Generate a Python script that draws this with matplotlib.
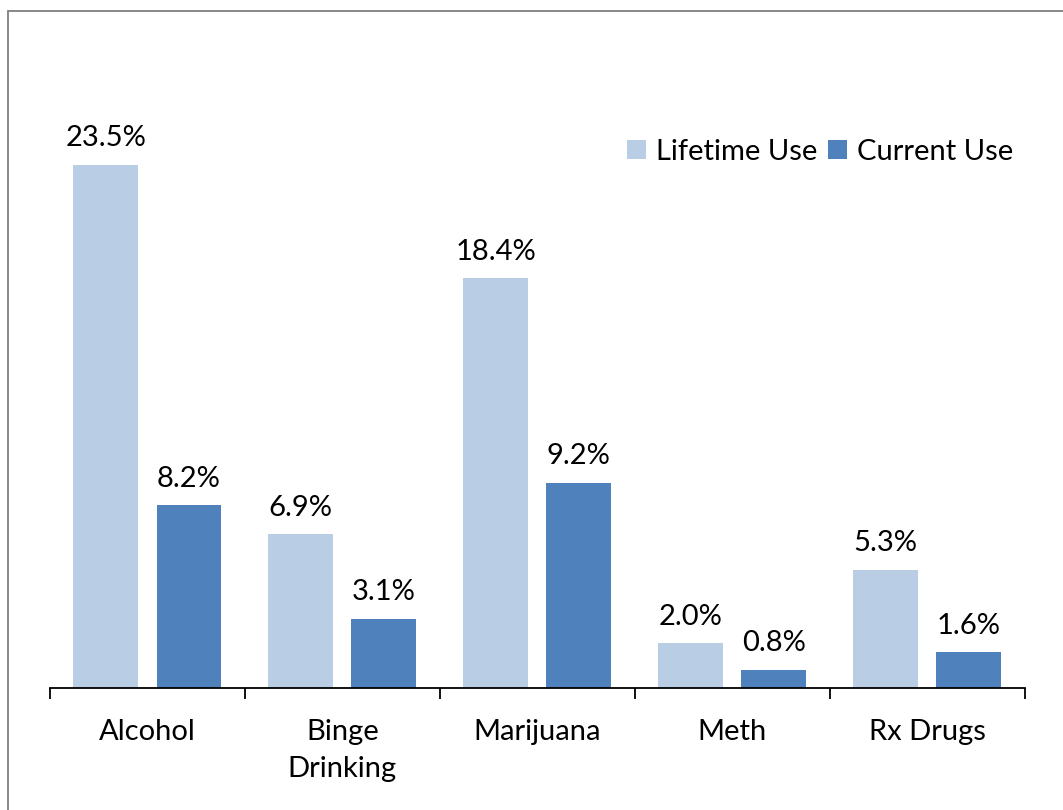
import matplotlib.pyplot as plt
import numpy as np
from matplotlib.patches import Rectangle

categories = ["Alcohol", "Binge\nDrinking", "Marijuana", "Meth", "Rx Drugs"]
lifetime = [23.5, 6.9, 18.4, 2.0, 5.3]
current = [8.2, 3.1, 9.2, 0.8, 1.6]

light = "#B9CDE5"
dark = "#4F81BD"

plt.rcParams['font.family'] = ['Lato', 'DejaVu Sans']

fig = plt.figure(figsize=(10.63, 8.1), dpi=100)
ax = fig.add_axes([0.047, 0.1506, 0.917, 0.687])

x = np.arange(len(categories))
w = 0.333
b1 = ax.bar(x - 0.213, lifetime, w, color=light, label="Lifetime Use")
b2 = ax.bar(x + 0.213, current, w, color=dark, label="Current Use")

for bars, vals in ((b1, lifetime), (b2, current)):
    for r, v in zip(bars, vals):
        ax.annotate(f"{v:.1f}%", (r.get_x() + r.get_width() / 2, v),
                    xytext=(0, 10), textcoords="offset points",
                    ha="center", va="bottom", fontsize=21)

ax.set_xlim(-0.5, len(categories) - 0.5)
ax.set_ylim(0, 25)
for s in ("top", "right", "left"):
    ax.spines[s].set_visible(False)
ax.spines["bottom"].set_linewidth(1.3)
ax.set_yticks([])

ax.set_xticks(np.arange(len(categories) + 1) - 0.5)
ax.set_xticklabels([])
ax.tick_params(axis="x", length=8, width=1.3, direction="out")
ax.set_xticks(x, minor=True)
ax.set_xticklabels(categories, minor=True, fontsize=21, linespacing=1.55)
ax.tick_params(axis="x", which="minor", length=0, pad=22)
for t in ax.get_xticklabels(minor=True):
    t.set_verticalalignment("top")

ax.legend(loc="upper right", bbox_to_anchor=(1.0, 1.008), ncol=2, frameon=False,
          fontsize=21, handlelength=0.65, handleheight=0.65, handletextpad=0.35,
          columnspacing=0.35, borderaxespad=0.0)

fig.patches.append(Rectangle((8 / 1063, -0.1), 1.2, 1 - 11 / 810 + 0.1,
                             transform=fig.transFigure, fill=False,
                             edgecolor="#7F7F7F", linewidth=1.3))

fig.savefig("out.png", dpi=100)
